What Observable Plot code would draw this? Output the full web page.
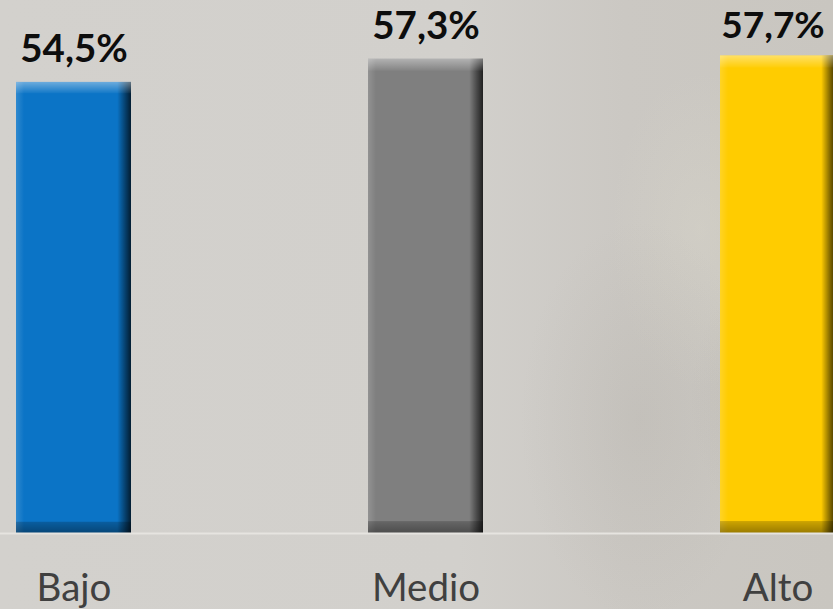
<!DOCTYPE html>
<html>
<head>
<meta charset="utf-8">
<script src="https://cdn.jsdelivr.net/npm/d3@7"></script>
<script src="https://cdn.jsdelivr.net/npm/@observablehq/plot@0.6"></script>
<style>
  html, body { margin: 0; padding: 0; }
  body {
    width: 833px; height: 609px; overflow: hidden;
    background:
      radial-gradient(ellipse 120px 200px at 640px 420px, rgba(150,146,138,0.14), rgba(150,146,138,0) 100%),
      radial-gradient(ellipse 90px 160px at 700px 230px, rgba(225,222,205,0.25), rgba(225,222,205,0) 100%),
      radial-gradient(ellipse 100px 140px at 790px 400px, rgba(140,136,128,0.14), rgba(140,136,128,0) 100%),
      linear-gradient(to right, #d3d1cd 0%, #d2d0cc 55%, #cbc8c3 75%, #c9c6c0 100%);
  }
  #chart svg { display: block; }
</style>
</head>
<body>
<div id="chart"></div>
<script>
const categories = ["Bajo", "Medio", "Alto"];
const values = [54.5, 57.3, 57.7];
const labels = ["54,5%", "57,3%", "57,7%"];
const colors = ["#0b74c6", "#7f7f7f", "#ffcc00"];

const data = categories.map((c, i) => ({cat: c, value: values[i], label: labels[i], color: colors[i]}));
const lastCat = categories[categories.length - 1];

const chart = Plot.plot({
  width: 833,
  height: 609,
  marginTop: 0,
  marginBottom: 76,
  marginLeft: 0,
  marginRight: 0,
  style: {background: "transparent", fontFamily: "Lato, 'Open Sans', sans-serif", overflow: "visible"},
  x: {domain: categories, range: [15, 836], paddingInner: 0.674, paddingOuter: 0, label: null},
  y: {domain: [0, 64.4], axis: null},
  color: {type: "identity"},
  marks: [
    Plot.barY(data, {x: "cat", y: "value", fill: "color"}),
    Plot.barY(data, {x: "cat", y: "value", fill: "url(#hbevel)"}),
    Plot.barY(data, {x: "cat", y: "value", fill: "url(#vbevel)"}),
    Plot.ruleY([0], {stroke: "#e6e4e0", strokeWidth: 2}),
    Plot.text(data, {filter: d => d.cat !== lastCat, x: "cat", y: "value", text: "label", dy: -20, lineAnchor: "bottom",
      fontSize: 38.5, fontWeight: "bold", fill: "#0d0d0d"}),
    Plot.text(data, {filter: d => d.cat === lastCat, x: "cat", y: "value", text: "label", dy: -18, dx: -5, lineAnchor: "bottom",
      fontSize: 37, fontWeight: "bold", fill: "#0d0d0d"}),
    Plot.axisX({tickSize: 0, tickPadding: 40, fontSize: 38.5, color: "#404040", label: null})
  ]
});

// bevel gradients
const defs = d3.select(chart).insert("defs", ":first-child");
const hg = defs.append("linearGradient").attr("id", "hbevel").attr("x1", 0).attr("x2", 1).attr("y1", 0).attr("y2", 0);
hg.append("stop").attr("offset", "0%").attr("stop-color", "#fff").attr("stop-opacity", 0.15);
hg.append("stop").attr("offset", "7%").attr("stop-color", "#fff").attr("stop-opacity", 0);
hg.append("stop").attr("offset", "88%").attr("stop-color", "#000").attr("stop-opacity", 0);
hg.append("stop").attr("offset", "95%").attr("stop-color", "#000").attr("stop-opacity", 0.45);
hg.append("stop").attr("offset", "100%").attr("stop-color", "#000").attr("stop-opacity", 0.75);
const vg = defs.append("linearGradient").attr("id", "vbevel").attr("x1", 0).attr("x2", 0).attr("y1", 0).attr("y2", 1);
vg.append("stop").attr("offset", "0%").attr("stop-color", "#fff").attr("stop-opacity", 0.4);
vg.append("stop").attr("offset", "2.4%").attr("stop-color", "#fff").attr("stop-opacity", 0.05);
vg.append("stop").attr("offset", "2.6%").attr("stop-color", "#fff").attr("stop-opacity", 0);
vg.append("stop").attr("offset", "97.4%").attr("stop-color", "#000").attr("stop-opacity", 0);
vg.append("stop").attr("offset", "97.6%").attr("stop-color", "#000").attr("stop-opacity", 0.2);
vg.append("stop").attr("offset", "100%").attr("stop-color", "#000").attr("stop-opacity", 0.4);

document.getElementById("chart").appendChild(chart);
</script>
</body>
</html>
